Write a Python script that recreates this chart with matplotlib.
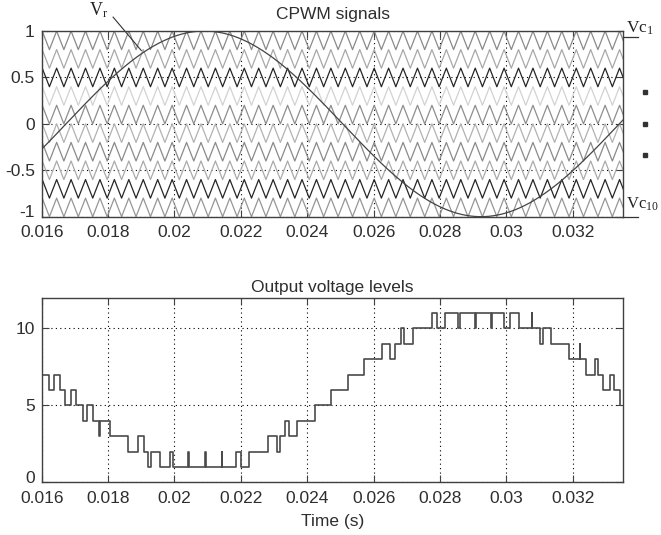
import numpy as np
import matplotlib
matplotlib.use("Agg")
import matplotlib.pyplot as plt
from matplotlib.transforms import offset_copy

plt.rcParams["font.family"] = ["Liberation Sans", "DejaVu Sans"]
plt.rcParams["mathtext.fontset"] = "custom"
plt.rcParams["mathtext.rm"] = "Liberation Serif"

T_START, T_END = 0.016, 0.03352

XTICKS = [0.016, 0.018, 0.020, 0.022, 0.024, 0.026, 0.028, 0.030, 0.032]
XTICK_LABELS = ["0.016", "0.018", "0.02", "0.022", "0.024", "0.026", "0.028", "0.03", "0.032"]
TOP_YTICKS = [-1, -0.5, 0, 0.5, 1]
TOP_YTICK_LABELS = ["-1", "-0.5", "0", "0.5", "1"]
BOT_YTICKS = [0, 5, 10]

# reference sine
REF_FREQ = 60.0
REF_PEAK_TIME = 0.0209
REF_AMPLITUDE = 1.0

# level-shifted carriers, top band first
CARRIER_FREQ = 2300.0
CARRIER_PEAK_TIME = 0.01645
CARRIER_LOWS = [0.8, 0.6, 0.4, 0.2, 0.0, -0.2, -0.4, -0.6, -0.8, -1.0]
CARRIER_HEIGHT = 0.2
CARRIER_COLORS = ["#8a8a8a", "#a8a8a8", "#262626", "#d2d2d2", "#8e8e8e",
                  "#b2b2b2", "#8a8a8a", "#aaaaaa", "#262626", "#969696"]

# output staircase: time where each level starts
STEP_TIMES = [0.01600, 0.01602, 0.01622, 0.01637, 0.01655, 0.01671, 0.01687, 0.01703,
              0.01723, 0.01737, 0.01755, 0.01772, 0.01776, 0.01806, 0.01861, 0.01890,
              0.01907, 0.01919, 0.01928, 0.01956, 0.01987, 0.01996, 0.02042, 0.02044,
              0.02092, 0.02094, 0.02142, 0.02144, 0.02185, 0.02199, 0.02224, 0.02283,
              0.02308, 0.02318, 0.02333, 0.02345, 0.02369, 0.02422, 0.02471, 0.02523,
              0.02572, 0.02625, 0.02649, 0.02664, 0.02681, 0.02692, 0.02719, 0.02776,
              0.02791, 0.02815, 0.02855, 0.02861, 0.02905, 0.02907, 0.02952, 0.02957,
              0.02994, 0.03011, 0.03038, 0.03076, 0.03078, 0.03101, 0.03109, 0.03133,
              0.03189, 0.03220, 0.03223, 0.03241, 0.03266, 0.03276, 0.03292, 0.03311,
              0.03323, 0.03341]
STEP_LEVELS = [8, 7, 6, 7, 6, 5, 6, 5,
               4, 5, 4, 3, 4, 3, 2, 3,
               2, 1, 2, 1, 2, 1, 2, 1,
               2, 1, 2, 1, 2, 1, 2, 3,
               2, 3, 4, 3, 4, 5, 6, 7,
               8, 9, 8, 9, 10, 9, 10, 11,
               10, 11, 10, 11, 10, 11, 10, 11,
               10, 11, 10, 11, 10, 9, 10, 9,
               8, 9, 8, 7, 8, 7, 6, 7,
               6, 5]

TICK_COLOR = "#2e2e2e"
SPINE_COLOR = "#404040"
FS = 12.5


def style_axes(ax):
    ax.set_xlim(T_START, T_END)
    ax.set_xticks(XTICKS)
    ax.set_xticklabels(XTICK_LABELS)
    ax.tick_params(direction="in", length=5, width=0.8, colors=SPINE_COLOR,
                   labelcolor=TICK_COLOR, labelsize=FS, top=True, right=True)
    ax.tick_params(axis="x", pad=6)
    ax.tick_params(axis="y", pad=5)
    ax.grid(True, color="black", linestyle=(0, (1, 3)), linewidth=0.8)
    for sp in ax.spines.values():
        sp.set_color(SPINE_COLOR)
        sp.set_linewidth(1.0)
    # lift the lowest y label a little so it clears the x labels
    lab = ax.get_yticklabels()[0]
    lab.set_transform(offset_copy(lab.get_transform(), fig=ax.figure, y=4, units="points"))


fig = plt.figure(figsize=(6.61, 5.35), dpi=100)
ax1 = fig.add_axes([0.0631, 0.595, 0.8799, 0.347])
ax2 = fig.add_axes([0.0631, 0.0985, 0.8799, 0.3451])

# --- top panel: carriers and reference
period = 1.0 / CARRIER_FREQ
k0 = int(np.floor((T_START - CARRIER_PEAK_TIME) / period)) - 1
k1 = int(np.ceil((T_END - CARRIER_PEAK_TIME) / period)) + 1
peaks = CARRIER_PEAK_TIME + period * np.arange(k0, k1 + 1)
vert_t = np.ravel(np.column_stack([peaks, peaks + period / 2]))
vert_phase = np.tile([1.0, 0.0], len(peaks))
for low, col in zip(CARRIER_LOWS, CARRIER_COLORS):
    ax1.plot(vert_t, low + CARRIER_HEIGHT * vert_phase, color=col, lw=0.9, zorder=2)

t = np.linspace(T_START, T_END, 800)
ax1.plot(t, REF_AMPLITUDE * np.cos(2 * np.pi * REF_FREQ * (t - REF_PEAK_TIME)),
         color="#444444", lw=0.9, zorder=3)

ax1.set_ylim(-1, 1)
ax1.set_yticks(TOP_YTICKS)
ax1.set_yticklabels(TOP_YTICK_LABELS)
style_axes(ax1)
ax1.set_title("CPWM signals", fontsize=FS, color=TICK_COLOR, pad=9)

# V_r label and pointer
ax1.text(0.01770, 1.12, r"$\mathrm{V_r}$", fontsize=13, color="#222222",
         ha="center", va="bottom", clip_on=False)
ax1.plot([0.01815, 0.0190], [1.15, 0.79], color="#333333", lw=0.8, clip_on=False)

# carrier labels on the right
ax1.plot([1.0, 1.026], [0.94, 0.94], transform=ax1.get_yaxis_transform(),
         color="#333333", lw=0.9, clip_on=False)
ax1.plot([1.0, 1.026], [-1.0, -1.0], transform=ax1.get_yaxis_transform(),
         color="#333333", lw=0.9, clip_on=False)
ax1.plot([1.037] * 3, [0.34, 0.0, -0.34], transform=ax1.get_yaxis_transform(),
         ls="none", marker="s", ms=2.5, color="#333333", clip_on=False)
fig.text(626 / 661, 1 - 33 / 535, r"$\mathrm{Vc_1}$", fontsize=12.5, color="#222222",
         ha="left", va="baseline")
fig.text(626 / 661, 1 - 209 / 535, r"$\mathrm{Vc_{10}}$", fontsize=12, color="#222222",
         ha="left", va="baseline")

# --- bottom panel: output levels
ax2.plot(STEP_TIMES, STEP_LEVELS, drawstyle="steps-post", color="#4a4a4a", lw=1.2)
ax2.set_ylim(0, 12)
ax2.set_yticks(BOT_YTICKS)
style_axes(ax2)
ax2.set_title("Output voltage levels", fontsize=FS, color=TICK_COLOR, pad=4)
ax2.set_xlabel("Time (s)", fontsize=FS, color=TICK_COLOR, labelpad=6)

fig.savefig("out.png", dpi=100)
